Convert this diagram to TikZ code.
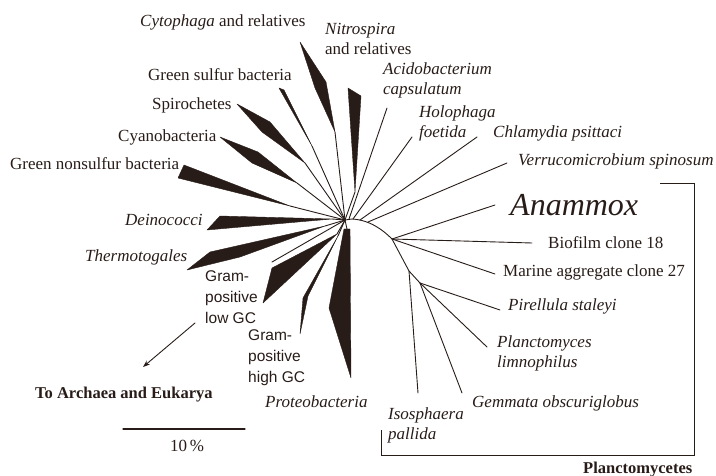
\documentclass[tikz,border=0pt]{standalone}
\usepackage{fontspec}
\setmainfont{Liberation Serif}
\setsansfont{Liberation Sans}
\usetikzlibrary{arrows.meta}
\definecolor{ink}{RGB}{40,28,24}
\begin{document}
\begin{tikzpicture}[x=1pt,y=-1pt,
  lbl/.style={anchor=west,inner sep=0pt,text=ink,font=\fontsize{17}{20}\selectfont,align=left},
  ilbl/.style={lbl,font=\fontsize{17}{20}\selectfont\itshape},
  slbl/.style={lbl,font=\fontsize{15.5}{21}\selectfont\sffamily},
  blbl/.style={lbl,font=\fontsize{16.5}{19}\selectfont\bfseries},
  br/.style={draw=ink,line width=0.9pt,line cap=round},
  wedge/.style={fill=ink,draw=ink,line width=0.4pt,line join=round}]
\useasboundingbox (0,0) rectangle (716,476);
% ---------- labels ----------
\node[lbl] (cyto) at (140,22) {\textit{Cytophaga} and relatives};
\node[ilbl] (nitro) at (325,39) {Nitrospira\\\upshape and relatives};
\node[lbl] (gsb) at (148,75) {Green sulfur bacteria};
\node[lbl] (spiro) at (152,105) {Spirochetes};
\node[lbl] (cyano) at (118,137) {Cyanobacteria};
\node[lbl] (gnsb) at (10,164) {Green nonsulfur bacteria};
\node[ilbl] (deino) at (125,220) {Deinococci};
\node[ilbl] (thermo) at (85,257) {Thermotogales};
\node[slbl] (gplow) at (205,297) {Gram-\\positive\\low GC};
\node[slbl] (gphigh) at (248,358) {Gram-\\positive\\high GC};
\node[ilbl] (proteo) at (265,402) {Proteobacteria};
\node[blbl] (arch) at (35,395) {To Archaea and Eukarya};
\node[lbl,anchor=center] (ten) at (187,446) {10\,\%};
\node[ilbl] (acido) at (383,80) {Acidobacterium\\capsulatum};
\node[ilbl] (holo) at (419,123) {Holophaga\\foetida};
\node[ilbl] (chlam) at (493,133) {Chlamydia psittaci};
\node[ilbl] (verru) at (518,161) {Verrucomicrobium spinosum};
\node[lbl,font=\fontsize{32}{36}\selectfont\itshape] (anam) at (510,205) {Anammox};
\node[lbl] (biof) at (548,243) {Biofilm clone 18};
\node[lbl] (marine) at (503,272) {Marine aggregate clone 27};
\node[ilbl] (pirel) at (508,306) {Pirellula staleyi};
\node[ilbl] (plancto) at (497,353) {Planctomyces\\limnophilus};
\node[ilbl] (gemm) at (472,403) {Gemmata obscuriglobus};
\node[ilbl] (isos) at (388,425) {Isosphaera\\pallida};
\node[blbl] (plgroup) at (583,470) {Planctomycetes};
% ---------- tree points ----------
\coordinate (C) at (345,220);
\coordinate (N1) at (392,239);
\coordinate (N2) at (409,271);
\coordinate (N3) at (420,283);
% wedges
\fill[wedge] (300,42) -- (326,82) -- (335,132) -- (315,88) -- cycle;
\draw[br] (335,132) -- (C);
\fill[wedge] (348,88) -- (361,96) -- (355,192) -- cycle;
\draw[br] (355,192) -- (C);
\fill[wedge] (279,88) -- (284,90) -- (312,146) -- cycle;
\draw[br] (312,146) -- (C);
\fill[wedge] (237,104) -- (270,122) -- (305,163) -- (262,132) -- cycle;
\draw[br] (305,163) -- (C);
\fill[wedge] (220,137) -- (258,152) -- (297,183) -- (252,163) -- cycle;
\draw[br] (297,183) -- (C);
\fill[wedge] (184,165) -- (290,206) -- (178,178) -- cycle;
\draw[br] (290,206) -- (C);
\fill[wedge] (220,216) -- (332,219) -- (207,230) -- cycle;
\draw[br] (332,219) -- (C);
\fill[wedge] (187,270) -- (210,252) -- (325,226) -- (240,257) -- cycle;
\draw[br] (325,226) -- (C);
\draw[br] (272,262) -- (C);
\fill[wedge] (272,268) -- (337,234) -- (263,303) -- cycle;
\draw[br] (337,234) -- (C);
\fill[wedge] (300,334) -- (303,298) -- (338,236) -- (308,296) -- cycle;
\draw[br] (338,236) -- (C);
\fill[wedge] (344,229) -- (329,308) -- (351,378) -- (350,229) -- cycle;
\draw[br] (347,229) -- (C);
% Planctomycete side
\draw[br] (C) -- (352,219) .. controls (370,220) and (383,230) .. (N1) -- (N2) -- (N3);
\coordinate (acE) at (387,108);
\coordinate (hoE) at (412,137);
\coordinate (chE) at (477,137);
\coordinate (veE) at (507,163);
\coordinate (anE) at (495,205);
\coordinate (biE) at (532,243);
\coordinate (maE) at (495,274);
\coordinate (piE) at (500,310);
\coordinate (plE) at (487,347);
\coordinate (geE) at (462,393);
\coordinate (isE) at (418,393);
\draw[br] (349,219) -- (acE);
\draw[br] (353,219) -- (hoE);
\draw[br] (360,220) -- (chE);
\draw[br] (368,222) -- (veE);
\draw[br] (N1) -- (anE);
\draw[br] (N1) -- (biE);
\draw[br] (N1) -- (maE);
\draw[br] (N2) -- (isE);
\draw[br] (N3) -- (piE);
\draw[br] (N3) -- (plE);
\draw[br] (N3) -- (geE);
% bracket
\coordinate (b1) at (660,183);
\coordinate (b2) at (694,183);
\coordinate (b3) at (694,455);
\coordinate (b4) at (381,455);
\coordinate (b5) at (381,430);
\draw[br,line cap=butt] (b1) -- (b2) -- (b3) -- (b4) -- (b5);
% scale bar
\coordinate (s1) at (123,429);
\coordinate (s2) at (245,429);
\draw[br,line width=1.2pt] (s1) -- (s2);
% arrow
\coordinate (a1) at (195,323);
\coordinate (a2) at (143,367);
\draw[br,-{Stealth[length=7pt,width=5pt]}] (a1) -- (a2);
\end{tikzpicture}
\end{document}
